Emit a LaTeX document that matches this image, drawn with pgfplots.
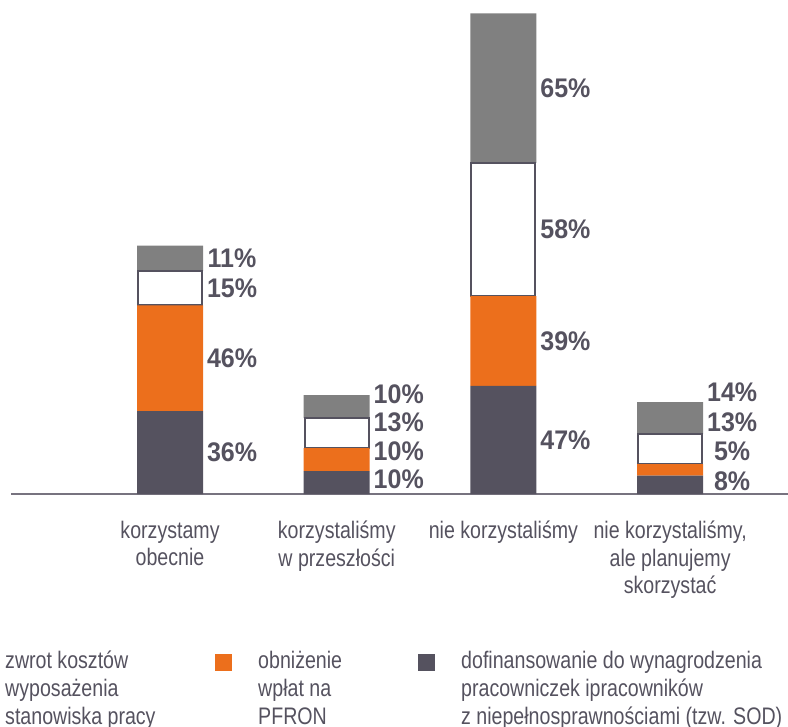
\documentclass[border=0pt]{standalone}
\usepackage{pgfplots}
\pgfplotsset{compat=1.18}
\usepackage{fontspec}
\setmainfont{Liberation Sans}
\newfontfamily\catfont{Liberation Sans}[FakeStretch=0.82]
\newfontfamily\pctfont{Liberation Sans}[FakeStretch=0.93]
\definecolor{cDark}{HTML}{55525F}
\definecolor{cOrange}{HTML}{EC6F1C}
\definecolor{cGray}{HTML}{808080}
\definecolor{cAxis}{HTML}{77737F}

\pgfplotsset{
  base/.style={
    scale only axis, width=777bp, height=494bp,
    xmin=-0.954, xmax=3.707, ymin=0, ymax=214.78,
    at={(11bp,-494bp)}, anchor=south west,
  }
}

\begin{document}
\begin{tikzpicture}
\begin{axis}[base, ybar stacked, bar width=66bp,
  axis x line*=bottom, axis y line=none,
  x axis line style={-, draw=cAxis, line width=2bp},
  xtick={0,1,2,3}, major tick length=0pt,
  xticklabels={{korzystamy\\obecnie},{korzystaliśmy\\w przeszłości},{nie korzystaliśmy},{nie korzystaliśmy,\\ale planujemy\\skorzystać}},
  xticklabel style={anchor=north, align=center, inner sep=0pt, yshift=-27bp, font=\catfont\fontsize{24}{27.5}\selectfont, text=cDark},
  ytick=\empty,
]
\addplot[fill=cDark, draw=none] coordinates {(0,36) (1,10) (2,47) (3,8)};
\addplot[fill=cOrange, draw=none] coordinates {(0,46) (1,10) (2,39) (3,5)};
\addplot[fill=white, draw=cDark, line width=2bp, bar width=64bp] coordinates {(0,15) (1,13) (2,58) (3,13)};
\addplot[fill=cGray, draw=none] coordinates {(0,11) (1,10) (2,65) (3,14)};
\end{axis}
\begin{axis}[base, hide axis, clip=false,
  legend columns=3, legend cell align=left,
  legend image code/.code={\fill[#1] (0bp,-2bp) rectangle (17bp,15bp); \path[draw=none, fill=none] (17bp,0bp) -- (43bp,0bp);},
  legend style={draw=none, fill=none, inner sep=0pt, column sep=0pt, row sep=0pt,
    font=\catfont\fontsize{24}{28}\selectfont, text=cDark,
    cells={anchor=base west}, nodes={inner sep=0pt},
    at={(axis description cs:0,0)}, anchor=north west, xshift=-49bp, yshift=-157bp},
]
\addlegendimage{fill=cGray, draw=none}
\addlegendentry{\parbox[t]{210bp}{zwrot kosztów\\wyposażenia\\stanowiska pracy}}
\addlegendimage{fill=cOrange, draw=none}
\addlegendentry{\parbox[t]{160bp}{obniżenie\\wpłat na\\PFRON}}
\addlegendimage{fill=cDark, draw=none}
\addlegendentry{\parbox[t]{330bp}{dofinansowanie do wynagrodzenia\\pracowniczek ipracowników\\z niepełnosprawnościami (tzw. SOD)}}
\addplot[only marks, mark=none, point meta=explicit symbolic,
  nodes near coords={\pgfplotspointmeta\%},
  every node near coord/.append style={anchor=center, xshift=62bp, inner sep=0pt,
    font=\pctfont\bfseries\fontsize{27}{27}\selectfont, text=cDark},
  forget plot] table[meta=v] {
x y v
0 18 36
0 59 46
0 89.5 15
0 102.5 11
1 6.5 10
1 18.7 10
1 31.3 13
1 43.5 10
2 23.5 47
2 66.5 39
2 115 58
2 176.5 65
3 5.7 8
3 18.7 5
3 31.3 13
3 44.3 14
};
\end{axis}
\pgfresetboundingbox
\path[use as bounding box] (0bp,0bp) rectangle (788bp,-727bp);
\end{tikzpicture}
\end{document}
